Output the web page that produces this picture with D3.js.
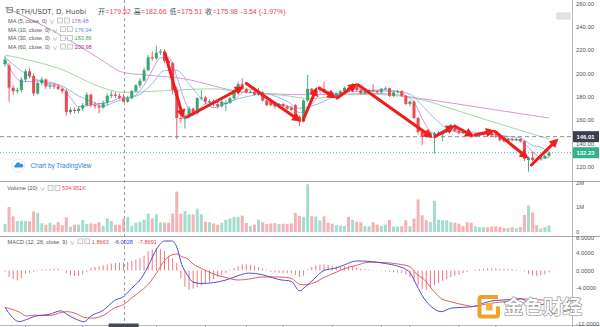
<!DOCTYPE html>
<html><head><meta charset="utf-8">
<script src="https://cdn.jsdelivr.net/npm/d3@7/dist/d3.min.js"></script>
<style>
html,body{margin:0;padding:0;background:#fff;}
svg{display:block;}
text{font-family:"Liberation Sans",Arial,"Noto Sans CJK SC",sans-serif;}
</style></head><body>
<svg id="chart" width="600" height="327"></svg>
<script>
// ---------------- DATA ----------------
const opens = [
208,207,188,185,186,195,202,198,183,192,
195,189,190,189,187,185,167,169,168,170,
173,182,173,172,171,175,181,182,181,179.52,
176,179,185,190,194,203,214,213,218,219,
211,209,186,162,161,164,170,166,179,179.5,
176,176.5,174,172,174,175,179,186,191,187,
184,184.5,182,184,177,176,174,172,174,172,
171,173,163,159,177,187,184,186,187,184,
182,180,183,185,188,186,191,186,183,184.5,
186,185,184,187,187.5,181,184,185,181,174,
176,162,150,149,146,147,149,148,150,153,
156,151,150,149.5,148,146.5,147,148,150,149.5,
147,146,144,142,144,143,144,142,126,128,
127,126.5,127.5,129.5];
const highs = [
215,209,190,188,197,204,205,200,194,197,
196,192,192,191,188,187,171,171,172,175,
184,183,176,175,177,183,185,184,183,182.66,
181,186,191,196,205,216,219,224,221,221,
213,210,189,165,166,172,171,180,186,181,
178,178,176,178,177,180,187,193,196,188,
186,185,188,185,178,177,175,175,175,173,
172,174,164,178,199,188,188,189,193,185,
183,184,186,189,189,192,192,187,185,187,
191,186,188,189,188,185,186,186,182,177,
177,163,151,152,150,150,151,151,154,157,
157,152,151,150,149,148.5,149,150,151,150,
148,147,145,145,145,145,145,143,129,133,
128,128.5,130.5,133.5];
const lows = [
206,176,182,183,184,193,196,181,182,190,
187,187,187,186,183,164,165,166,166,168,
172,171,170,166,170,173,179,179,178,175.51,
175,178,184,188,193,202,211,212,216,209,
207,182,144,158,153,162,164,165,177,174,
174,172,170,171,168,174,178,185,186,183,
183,181,181,176,172,172,170,171,171,169,
168,162,155,158,176,182,183,184,183,181,
179,179,182,184,185,185,185,182,182,183,
184,183,183,186,180,180,183,180,173,172,
161,148,139,145,145,131.5,147,142,149,152,
150,148,148,146,145,145.5,146,147,148,146,
145,142,141,141,142,142,141,125,116,125,
125.5,125.5,127,128.5];
const closes = [
212,188,185,186,195,202,198,183,192,195,
189,190,189,187,185,167,169,168,170,173,
182,173,172,171,175,181,182,181,179.52,175.98,
179,185,190,194,203,214,213,218,219,211,
209,186,162,161,164,170,166,179,179.5,176,
176.5,174,172,176,175,179,186,191,187,184,
184.5,182,184,177,173,173,172,174,172,170,
169,163,159,177,187,184,186,187,184,182,
180,183,185,188,186,191,186,183,184.5,186,
185,184,187,187.5,181,184,185,181,174,176,
162,150,146,146,149,149,149.5,150,153,156,
151,149,149,147,146,147.5,148,149,149,147,
146,143,142,144,143,144,142,127,128,126,
126.5,127.5,129.5,132.23];
// volume, millions
const volumes = [
0.33,1.02,0.64,0.45,0.46,0.45,0.44,0.84,0.78,0.36,
0.30,0.38,0.30,0.40,0.28,0.60,0.22,0.30,0.30,0.50,
0.33,0.35,0.33,0.40,0.25,0.55,0.45,0.30,0.30,0.534951,
0.62,0.25,0.38,0.42,0.50,0.75,0.55,0.72,0.40,0.38,
0.38,0.75,1.65,0.75,0.86,0.72,0.72,0.95,0.72,0.42,
0.40,0.35,0.30,0.38,0.50,0.55,0.62,0.62,0.67,0.37,
0.25,0.30,0.50,0.40,0.32,0.35,0.36,0.32,0.34,0.32,
0.35,0.78,0.65,0.62,1.95,0.65,0.64,0.48,0.64,0.38,
0.34,0.28,0.26,0.24,0.62,0.50,0.42,0.40,0.24,0.23,
0.40,0.30,0.25,0.30,0.50,0.23,0.23,0.23,0.48,0.23,
0.55,1.33,0.68,0.48,0.40,1.28,0.50,0.48,0.48,0.40,
0.38,0.34,0.24,0.40,0.38,0.23,0.20,0.20,0.20,0.23,
0.23,0.20,0.16,0.16,0.20,0.16,0.20,0.70,1.08,0.80,
0.28,0.14,0.20,0.27];
// moving averages: [candle index, value]
const ma5 = [[0,212],[2,200],[4,193.2],[6,193.2],[8,194],[10,191.4],[12,191],[14,188],[16,179.4],[18,171.8],[20,172.4],[22,174],[24,174.6],[26,176.2],[28,179],[30,179.5],[32,181.9],[34,190.2],[36,202.8],[38,213.4],[40,214],[42,197.4],[44,176.4],[46,164.6],[48,171.7],[50,175.4],[52,175.6],[54,174.7],[56,177.6],[58,183.6],[60,186.5],[62,184.3],[64,180.1],[66,175.8],[68,172.8],[70,171.4],[72,166.6],[74,170.2],[76,177.8],[78,185.6],[80,183.8],[82,182.8],[84,184.4],[86,187.2],[88,186.1],[90,184.9],[92,185.3],[94,184.9],[96,184.9],[98,181],[100,175.6],[102,161.6],[104,150.6],[106,147.8],[108,150],[110,151.8],[112,151.6],[114,148.4],[116,147.5],[118,147.9],[120,147.8],[122,145.4],[124,143.6],[126,143],[128,136.8],[130,129.9],[132,127.5],[133,128.3]];
const ma10 = [[0,214],[3,205],[6,198],[9,193.6],[12,191.9],[15,187.5],[18,180.9],[21,176.3],[24,172],[27,176],[30,179],[33,182.3],[36,191.5],[39,202.6],[42,202.9],[45,191.3],[48,178.8],[51,170.8],[54,174.4],[57,178.5],[60,180.9],[63,183],[66,180.8],[69,176.2],[72,170.2],[75,172.3],[78,176.2],[81,181.5],[84,184.5],[87,184.8],[90,185.8],[93,186],[96,184.7],[99,182.5],[102,172.7],[105,161.8],[108,153],[111,149.8],[114,149.9],[117,149.6],[120,147.8],[123,146.2],[126,144.9],[129,138.5],[131,137],[133,132.6]];
const ma30 = [[0,216],[15,202],[23,189],[29,184],[34,184.5],[45,186.5],[51,187],[57,184.5],[68,181.5],[75,178.5],[83,182],[91,182],[100,179],[102,177.5],[110,169],[118,160],[126,151.5],[133,144]];
const ma60 = [[0,257],[11,238],[18,224],[23,213],[29,201],[34,199],[43,196],[59,184],[74,182],[92,183],[101,179],[118,170],[133,162]];
const maPeriods = [5,10,30,60];
const maLegendValues = [178.48,176.94,183.86,200.98];
// MACD (12,26,9)
const macdLine = [[0,-8.5],[3.5,-11.8],[5.3,-11.3],[7.2,-10.6],[10.9,-10.1],[13.7,-9.3],[15.1,-10.1],[17.5,-11.3],[19.3,-11.8],[21.2,-10.4],[24,-9.2],[26.8,-6.9],[29,-6.0028],[31,-4.1],[33.4,-1.7],[35.2,1.4],[37.1,5.0],[39,6.8],[40.8,6.8],[42,5.4],[43.2,1.4],[44.6,-1.0],[46,-2.7],[48,-3.0],[51,-2.8],[54,-2.2],[57,-1.2],[59.5,-0.6],[63,-1.0],[67,-2.1],[70,-2.5],[72,-4.7],[73.5,-3.7],[75.4,-2.1],[78,0],[81,0.6],[83,1.3],[86,2.2],[89,2.1],[93,1.6],[96,1.0],[99,-0.5],[100.6,-3.3],[102.5,-6.5],[104.4,-8.5],[106.7,-9.5],[109,-8.7],[112,-8.5],[114.6,-8.3],[117.4,-7.4],[120,-6.9],[124,-6.7],[126,-6.5],[128,-7.4],[130,-8.0],[133,-7.4]];
const signalLine = [[0,-8.5],[3.5,-9.6],[5.3,-10.5],[7.2,-10.3],[10.9,-10.4],[13.7,-9.7],[15.1,-9.5],[17.5,-10.0],[19.3,-10.8],[21.2,-11.0],[24,-10.4],[26.8,-8.6],[29,-7.8691],[31,-6.3],[33.4,-4.6],[35.2,-3.0],[37.1,-0.5],[39,2.3],[40.8,3.6],[42,3.8],[43.2,3.2],[44.6,2.7],[46,1.5],[48,0.5],[51,-0.8],[54,-1.6],[57,-2.2],[59.5,-2.0],[63,-1.5],[67,-1.5],[70,-1.8],[72,-3.2],[73.5,-3.3],[75.4,-2.9],[78,-1.6],[81,-0.4],[83,0.4],[86,1.2],[89,1.9],[93,1.8],[96,1.5],[99,0.9],[100.6,-0.8],[102.5,-2.1],[104.4,-4.3],[106.7,-6.5],[109,-7.2],[112,-7.9],[114.6,-8.3],[117.4,-7.8],[120,-7.4],[124,-7.0],[126,-6.6],[128,-6.6],[130,-6.7],[133,-7.0]];
const macdHist = [
-0.3,-1.5,-2.0,-2.3,-1.8,-0.8,-0.5,-0.3,0.1,0.2,
0.3,0.3,0.4,0.4,0.1,-0.6,-1.1,-1.3,-1.3,-0.9,
-0.3,0.6,0.8,1.0,1.2,1.4,1.6,1.7,1.8,1.8663,
2.0,2.2,2.5,2.8,3.4,4.4,4.8,5.2,5.0,4.5,
3.4,2.8,1.7,-1.8,-3.7,-4.5,-4.2,-3.9,-3.5,-3.0,
-2.5,-2.0,-1.5,-1.0,-0.6,0.2,0.6,1.0,1.4,1.4,
1.3,1.1,0.8,0.5,0.2,-0.3,-0.5,-0.6,-0.6,-0.6,
-0.7,-1.0,-1.5,-1.2,0.2,0.8,1.2,1.4,1.4,1.3,
1.1,1.0,0.9,1.0,1.0,0.9,0.6,0.4,0.3,0.2,
0.1,0.0,-0.1,-0.2,-0.3,-0.4,-0.5,-0.6,-0.9,-1.5,
-2.5,-3.5,-4.3,-4.5,-4.0,-3.4,-3.0,-2.4,-2.0,-1.5,
-1.2,-0.9,-0.6,-0.4,0.0,0.2,0.3,0.4,0.5,0.5,
0.5,0.4,0.4,0.3,0.3,0.2,0.1,-0.2,-0.8,-1.2,
-1.3,-1.1,-0.9,-0.4];
const macdLegendValues = [1.8663,-6.0028,-7.8691];
// hand-drawn arrows: [fromIndex, fromPrice, toIndex, toPrice]
const arrows = [
[39.1,217.7,43.6,161.7],[44.5,162.9,58.4,189.0],[59.0,191.6,72.4,159.0],
[72.9,160.3,76.3,188.6],[76.8,187.7,81.0,178.9],[81.2,179.1,86.1,191.6],
[86.4,190.3,104.6,144.9],[105.1,146.0,110.0,155.6],[110.1,154.7,114.7,146.1],
[114.9,147.4,119.8,151.3],[119.8,150.4,128.0,127.3],[128.7,121.7,135.3,144.4]];
const hLineLevel = 146.01;
const crossIdx = 29;
const priceTicks = [260,240,220,200,180,160,140,120];
const volumeTicks = [0,1,2];
const volumeTickLabels = ['0','1M','2M'];
const macdTicks = [8,4,0,-4,-12];
const timeTicks = [5,19,37,49,59,68,80,92,99,111,120];

// ---------------- DRAW ----------------
const svg = d3.select('#chart');
const AX = 572;
const x = d3.scaleLinear().domain([-1.222, 138.63]).range([0, AX]);
const yP = d3.scaleLinear().domain([120, 260]).range([167, 3.67]);
const yV = d3.scaleLinear().domain([0, 2]).range([232, 183]);
const yM = d3.scaleLinear().domain([-12, 8]).range([322.5, 235.8]);
const UP = '#37a572', DN = '#e94b55';
const idx = d3.range(closes.length);
const isUp = i => closes[i] >= opens[i];

const defs = svg.append('defs');
function clip(id, y0, y1, w){ defs.append('clipPath').attr('id', id).append('rect').attr('x',0).attr('y',y0).attr('width',w).attr('height',y1-y0); }
clip('cp',0,181,AX); clip('cv',181.5,236,AX); clip('cm',236.5,325,AX);
clip('ap',0,181,600); clip('av',181.5,236,600); clip('am',236.5,327,600);

svg.append('rect').attr('width',600).attr('height',327).attr('fill','#fff');

// ---- price pane ----
const gP = svg.append('g').attr('clip-path','url(#cp)');
const maLine = d3.line().x(d=>x(d[0])).y(d=>yP(d[1])).curve(d3.curveMonotoneX);
const maColors = ['#c59be3','#93bde6','#a6d6a6','#d49ad0'];
[[ma60,maColors[3]],[ma30,maColors[2]],[ma10,maColors[1]],[ma5,maColors[0]]].forEach(([d,c])=>{
  gP.append('path').attr('d',maLine(d)).attr('fill','none').attr('stroke',c).attr('stroke-width',1);
});
// levels
gP.append('line').attr('x1',0).attr('x2',AX).attr('y1',yP(hLineLevel)).attr('y2',yP(hLineLevel))
  .attr('stroke','#8d9099').attr('stroke-width',1).attr('stroke-dasharray','4,3');
const last = closes[closes.length-1];
gP.append('line').attr('x1',0).attr('x2',AX).attr('y1',yP(last)).attr('y2',yP(last))
  .attr('stroke','#3fb39a').attr('stroke-width',1).attr('stroke-dasharray','1,2');
// candles
gP.selectAll('line.wick').data(idx).join('line').attr('class','wick')
  .attr('x1',i=>x(i)).attr('x2',i=>x(i)).attr('y1',i=>yP(highs[i])).attr('y2',i=>yP(lows[i]))
  .attr('stroke',i=>isUp(i)?UP:DN).attr('stroke-width',0.9);
gP.selectAll('rect.body').data(idx).join('rect').attr('class','body')
  .attr('x',i=>x(i)-1.5).attr('width',3)
  .attr('y',i=>yP(Math.max(opens[i],closes[i])))
  .attr('height',i=>Math.max(0.9,Math.abs(yP(opens[i])-yP(closes[i]))))
  .attr('fill',i=>isUp(i)?UP:DN);
// arrows
const ag = gP.append('g');
arrows.forEach(([i0,p0,i1,p1])=>{
  const x0=x(i0),y0=yP(p0),x1=x(i1),y1=yP(p1);
  const dx=x1-x0, dy=y1-y0, L=Math.hypot(dx,dy), ux=dx/L, uy=dy/L;
  const hl=9, hw=4.6;
  const bx=x1-ux*hl, by=y1-uy*hl;
  ag.append('line').attr('x1',x0).attr('y1',y0).attr('x2',bx+ux).attr('y2',by+uy)
    .attr('stroke','#f01d1d').attr('stroke-width',3).attr('stroke-linecap','round');
  ag.append('path').attr('d',`M${x1},${y1}L${bx-uy*hw},${by+ux*hw}L${bx+uy*hw},${by-ux*hw}Z`).attr('fill','#f01d1d');
});

// ---- volume pane ----
const gV = svg.append('g').attr('clip-path','url(#cv)');
gV.selectAll('rect').data(idx).join('rect')
  .attr('x',i=>x(i)-1.5).attr('width',3)
  .attr('y',i=>yV(volumes[i])).attr('height',i=>yV(0)-yV(volumes[i]))
  .attr('fill',i=>isUp(i)?'#a3ddcd':'#f5b1b6');

// ---- MACD pane ----
const gM = svg.append('g').attr('clip-path','url(#cm)');
gM.selectAll('line').data(idx).join('line')
  .attr('x1',i=>x(i)).attr('x2',i=>x(i)).attr('y1',yM(0)).attr('y2',i=>yM(macdHist[i]))
  .attr('stroke','#ee7880').attr('stroke-width',1);
const mLine = d3.line().x(d=>x(d[0])).y(d=>yM(d[1])).curve(d3.curveMonotoneX);
gM.append('path').attr('d',mLine(signalLine)).attr('fill','none').attr('stroke','#e85a5f').attr('stroke-width',1);
gM.append('path').attr('d',mLine(macdLine)).attr('fill','none').attr('stroke','#4b4fd6').attr('stroke-width',1);

// ---- frame ----
const frame = svg.append('g');
[181,236].forEach(yy=>frame.append('line').attr('x1',0).attr('x2',600).attr('y1',yy+0.5).attr('y2',yy+0.5).attr('stroke','#a3a6ae').attr('stroke-width',1));
frame.append('line').attr('x1',AX+0.5).attr('x2',AX+0.5).attr('y1',0).attr('y2',327).attr('stroke','#b4b7bf').attr('stroke-width',1);
frame.append('line').attr('x1',0).attr('x2',600).attr('y1',325.5).attr('y2',325.5).attr('stroke','#b4b7bf').attr('stroke-width',1);
timeTicks.forEach(t=>frame.append('line').attr('x1',x(t)).attr('x2',x(t)).attr('y1',325.5).attr('y2',328).attr('stroke','#9a9da6'));
// crosshair
frame.append('line').attr('x1',Math.round(x(crossIdx))+0.5).attr('x2',Math.round(x(crossIdx))+0.5).attr('y1',0).attr('y2',325)
  .attr('stroke','#9a9da6').attr('stroke-width',1).attr('stroke-dasharray','3,3');
frame.append('rect').attr('x',x(crossIdx)-15).attr('y',323.5).attr('width',30).attr('height',4).attr('fill','#454955');

// ---- axis labels ----
const axFs = 5.9, axCol = '#4f535c';
const gAP = svg.append('g').attr('clip-path','url(#ap)');
priceTicks.forEach(t=>gAP.append('text').attr('x',576).attr('y',yP(t)+2.1).attr('font-size',axFs).attr('fill',axCol).text(t.toFixed(2)));
const gAV = svg.append('g').attr('clip-path','url(#av)');
volumeTicks.forEach((t,k)=>gAV.append('text').attr('x',576).attr('y',yV(t)+1.6).attr('font-size',axFs).attr('fill',axCol).text(volumeTickLabels[k]));
const gAM = svg.append('g').attr('clip-path','url(#am)');
const f4 = v => d3.format('.4f')(v).replace('\u2212','-');
macdTicks.forEach(t=>gAM.append('text').attr('x',576).attr('y',yM(t)+(t===8?4.6:(t===-12?3.1:2.1))).attr('font-size',axFs).attr('fill',axCol).text(f4(t)));
// price tags
[[hLineLevel,'#3b3f4b'],[last,'#2fb28a']].forEach(([v,c])=>{
  gAP.append('rect').attr('x',573).attr('y',yP(v)-5.5).attr('width',26).attr('height',11).attr('fill',c);
  gAP.append('text').attr('x',576.5).attr('y',yP(v)+2.1).attr('font-size',axFs).attr('font-weight','bold').attr('fill','#fff').text(v.toFixed(2));
});

// ---- legends ----
function legendRow(g, x0, y, parts){
  let cx = x0;
  parts.forEach(p=>{
    if (p.box){
      g.append('rect').attr('x',cx).attr('y',y-4.8).attr('width',5).attr('height',5).attr('fill','#f7f7f7').attr('stroke','#a9abb2').attr('stroke-width',0.6);
      cx += 7; return;
    }
    if (p.at !== undefined) cx = Math.max(cx, p.at);
    const t = g.append('text').attr('x',cx).attr('y',y).attr('font-size',p.fs).attr('fill',p.c).text(p.t);
    if (p.ff) t.style('font-family',p.ff);
    cx += t.node().getComputedTextLength() + (p.gap===undefined?3:p.gap);
  });
}
const lg = svg.append('g');
// header
lg.append('rect').attr('x',7).attr('y',7.5).attr('width',5.5).attr('height',5).attr('fill','none').attr('stroke','#666').attr('stroke-width',0.7);
lg.append('line').attr('x1',7).attr('x2',12.5).attr('y1',10).attr('y2',10).attr('stroke','#666').attr('stroke-width',0.6);
const hf = 7, red = '#e8464f', gray='#4a4d55';
const chg = closes[crossIdx]-closes[crossIdx-1];
const fm = d3.format('.2f');
const fs2 = v => d3.format('.2f')(v).replace('\u2212','-');
legendRow(lg, 16, 14, [
  {t:'ETH/USDT, D, Huobi', fs:hf, c:gray, gap:8, ff:'"DejaVu Sans",sans-serif'},
  {t:'开', fs:hf, c:gray, gap:0.4, at:98},{t:'='+fm(opens[crossIdx]), fs:hf, c:red, gap:2.8},
  {t:'高', fs:hf, c:gray, gap:0.4},{t:'='+fm(highs[crossIdx]), fs:hf, c:red, gap:2.8},
  {t:'低', fs:hf, c:gray, gap:0.4},{t:'='+fm(lows[crossIdx]), fs:hf, c:red, gap:2.8},
  {t:'收', fs:hf, c:gray, gap:0.4},{t:'='+fm(closes[crossIdx]), fs:hf, c:red, gap:2.8},
  {t:fs2(chg)+' ('+fs2(chg/closes[crossIdx-1]*100)+'%)', fs:hf, c:red}
]);
const lfs = 5.6, maValColors = ['#9a6bd8','#5f97d6','#3ea75a','#b02a7e'];
maPeriods.forEach((p,k)=>{
  legendRow(lg, 8, 22.8 + k*8.7, [
    {t:`MA (${p}, close, 0)`, fs:lfs, c:'#555', gap:2.5},
    {t:'∨', fs:lfs*0.9, c:'#777', gap:3},
    {box:true},{box:true},
    {t:fm(maLegendValues[k]), fs:lfs, c:maValColors[k]}
  ]);
});
legendRow(lg, 7.3, 190.3, [
  {t:'Volume (20)', fs:lfs, c:'#555', gap:2.5},
  {t:'∨', fs:lfs*0.9, c:'#777', gap:3},
  {box:true},{box:true},
  {t:d3.format('.3f')(volumes[crossIdx]*1000)+'K', fs:lfs, c:red}
]);
legendRow(lg, 7.6, 243.6, [
  {t:'MACD (12, 26, close, 9)', fs:lfs, c:'#555', gap:2.5},
  {t:'∨', fs:lfs*0.9, c:'#777', gap:3},
  {box:true},{box:true},
  {t:f4(macdLegendValues[0]), fs:lfs, c:red, gap:5},
  {t:f4(macdLegendValues[1]), fs:lfs, c:'#3f47cf', gap:5},
  {t:f4(macdLegendValues[2]), fs:lfs, c:red}
]);
// top-right mini icon
lg.append('rect').attr('x',557).attr('y',13).attr('width',13).attr('height',6).attr('fill','#e4e5e8').attr('stroke','#c4c6cc').attr('stroke-width',0.6);
// TradingView badge
lg.append('circle').attr('cx',18.3).attr('cy',165.5).attr('r',6.5).attr('fill','#fff').attr('stroke','#d5e3f2').attr('stroke-width',0.8);
lg.append('path').attr('d','M14.5,167.5 a2,2 0 0 1 1.2,-3 a2.6,2.6 0 0 1 4.8,-0.6 a1.9,1.9 0 0 1 1.7,3.6 z').attr('fill','#3b8fe0');
lg.append('text').attr('x',30.5).attr('y',167.8).attr('font-size',6.4).attr('fill','#2e7fd6').text('Chart by TradingView');

// ---- watermark ----
const wm = svg.append('g');
wm.append('path').attr('d','M498,297 H481.5 Q479.5,297 479.5,299 V314.5 Q479.5,316.5 481.5,316.5 H496 Q498,316.5 498,314.5 V306.5')
  .attr('fill','none').attr('stroke','#f0a12a').attr('stroke-width',4);
wm.append('rect').attr('x',486).attr('y',303).attr('width',6.5).attr('height',7.5).attr('fill','#f6b13c');
wm.append('text').attr('x',504).attr('y',314.3).attr('font-size',19.5).attr('font-weight',700)
  .style('font-family','"Noto Sans CJK SC",sans-serif')
  .attr('fill','#fdfdfd').attr('stroke','#8a8a8a').attr('stroke-width',1.2).attr('paint-order','stroke')
  .text('金色财经');
</script></body></html>
